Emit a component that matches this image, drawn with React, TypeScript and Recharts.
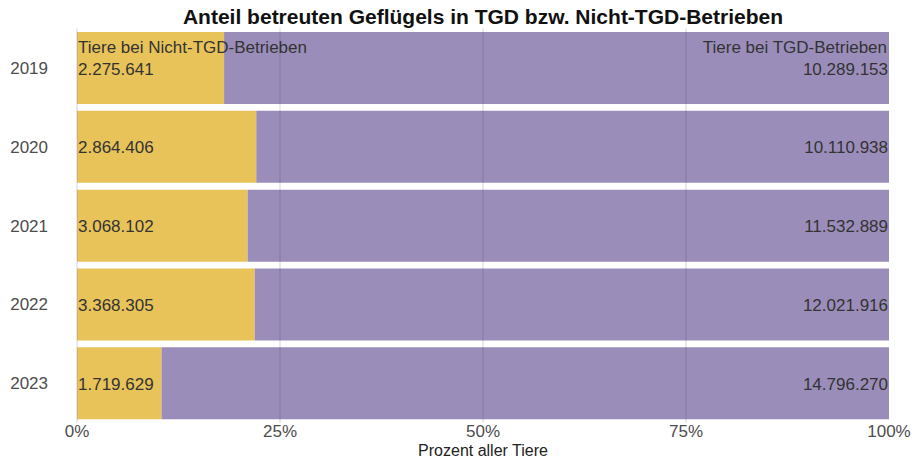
import { BarChart, Bar, XAxis, YAxis, ReferenceLine, LabelList } from "recharts";

const years = ["2019", "2020", "2021", "2022", "2023"];
const nichtTgd = [2275641, 2864406, 3068102, 3368305, 1719629];
const tgd = [10289153, 10110938, 11532889, 12021916, 14796270];
const xTicks = [0, 0.25, 0.5, 0.75, 1];

const YELLOW = "#e8c35a";
const PURPLE = "#9b8dba";
const FONT = "'Liberation Sans', Arial, sans-serif";
const FS = 17;

const data = years.map((y, i) => ({ year: y, nicht: nichtTgd[i], tgd: tgd[i] }));

const fmt = (n: number) => String(n).replace(/\B(?=(\d{3})+(?!\d))/g, ".");

function LeftLabel(props: any) {
  const { x, y, height, value, index } = props;
  const cy = y + height / 2;
  return (
    <g>
      {index === 0 && (
        <text x={x + 1} y={cy - 21} fontSize={FS} fill="#333" dominantBaseline="central">
          Tiere bei Nicht-TGD-Betrieben
        </text>
      )}
      <text x={x + 1} y={cy + 1} fontSize={FS} fill="#333" dominantBaseline="central">
        {fmt(value)}
      </text>
    </g>
  );
}

function RightLabel(props: any) {
  const { x, y, width, height, value, index } = props;
  const cy = y + height / 2;
  return (
    <g>
      {index === 0 && (
        <text x={x + width - 2} y={cy - 21} fontSize={FS} fill="#333" textAnchor="end" dominantBaseline="central">
          Tiere bei TGD-Betrieben
        </text>
      )}
      <text x={x + width - 1} y={cy + 1} fontSize={FS} fill="#333" textAnchor="end" dominantBaseline="central">
        {fmt(value)}
      </text>
    </g>
  );
}

export default function App() {
  return (
    <div style={{ position: "absolute", left: 0, top: 0, width: 912, height: 461, fontFamily: FONT, background: "#fff" }}>
      <div
        style={{
          position: "absolute",
          left: 77,
          width: 812,
          top: 4,
          textAlign: "center",
          fontWeight: "bold",
          fontSize: 21,
          color: "#111",
          lineHeight: "26px",
        }}
      >
        Anteil betreuten Geflügels in TGD bzw. Nicht-TGD-Betrieben
      </div>
      <BarChart
        width={912}
        height={461}
        data={data}
        layout="vertical"
        stackOffset="expand"
        barCategoryGap="4.5%"
        margin={{ top: 28.5, right: 23, left: 0, bottom: 0 }}
        style={{ fontFamily: FONT }}
      >
        <XAxis
          type="number"
          domain={[0, 1]}
          ticks={xTicks}
          tickFormatter={(v) => `${Math.round(v * 100)}%`}
          axisLine={false}
          tickLine={false}
          tickSize={1}
          tickMargin={1}
          height={38.5}
          tick={{ fontSize: FS, fill: "#4d4d4d" }}
          interval={0}
          label={{ value: "Prozent aller Tiere", position: "insideBottom", offset: 5, fontSize: 16, fill: "#222" }}
        />
        <YAxis
          type="category"
          dataKey="year"
          width={77}
          axisLine={false}
          tickLine={false}
          tickSize={0}
          tickMargin={29}
          tick={{ fontSize: FS, fill: "#4d4d4d" }}
        />
        <Bar dataKey="nicht" stackId="a" fill={YELLOW} isAnimationActive={false}>
          <LabelList dataKey="nicht" content={LeftLabel} />
        </Bar>
        <Bar dataKey="tgd" stackId="a" fill={PURPLE} isAnimationActive={false}>
          <LabelList dataKey="tgd" content={RightLabel} />
        </Bar>
        {xTicks.slice(0, 4).map((t) => (
          <ReferenceLine key={t} x={t} stroke="rgba(60,45,90,0.22)" strokeWidth={1} />
        ))}
      </BarChart>
    </div>
  );
}
